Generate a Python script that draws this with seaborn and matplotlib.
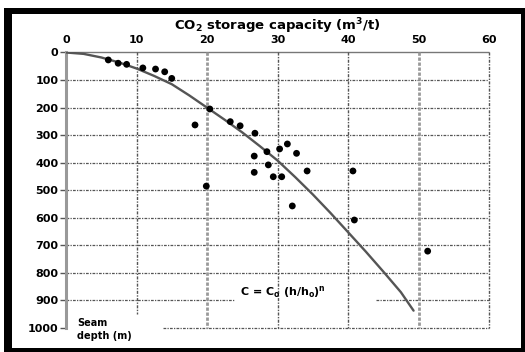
import matplotlib
matplotlib.use("Agg")
import matplotlib.pyplot as plt
from matplotlib.patches import Rectangle
import seaborn as sns
import pandas as pd

# Data
capacity = [6.0, 7.4, 8.6, 10.9, 12.7, 14.0, 15.0, 20.4, 18.3, 23.3, 24.7, 26.8,
            26.7, 28.5, 26.7, 19.9, 28.7, 30.3, 31.4, 32.7, 29.4, 30.6, 34.2,
            40.7, 32.1, 40.9, 51.3]
depth = [27, 39, 43, 56, 60, 70, 94, 205, 263, 251, 266, 293,
         376, 360, 435, 485, 408, 350, 332, 366, 451, 451, 430,
         430, 557, 608, 721]

curve_cap = [0, 2.5, 5, 7.5, 10, 12.5, 15, 17.5, 20, 22.5, 25, 27.5, 30, 32.5,
             35, 37.5, 40, 42.5, 45, 47.5, 49.3]
curve_depth = [0, 5, 18, 36, 58, 85, 115, 156, 200, 244, 290, 340, 392, 452,
               515, 582, 652, 722, 795, 870, 937]

x_ticks = [0, 10, 20, 30, 40, 50, 60]
y_ticks = [0, 100, 200, 300, 400, 500, 600, 700, 800, 900, 1000]

sns.set_theme(style="white")
plt.rcParams['font.family'] = ['DejaVu Sans']
plt.rcParams['font.weight'] = 'bold'
plt.rcParams['text.color'] = 'black'
plt.rcParams['axes.labelcolor'] = 'black'
plt.rcParams['mathtext.fontset'] = 'custom'
plt.rcParams['mathtext.rm'] = 'DejaVu Sans:bold'
plt.rcParams['mathtext.it'] = 'DejaVu Sans:bold'
plt.rcParams['mathtext.bf'] = 'DejaVu Sans:bold'
plt.rcParams['mathtext.default'] = 'rm'

W, H = 525, 352
fig = plt.figure(figsize=(W / 100, H / 100), dpi=100)
fig.patch.set_facecolor('white')
ax = fig.add_axes([66 / W, 1 - 328 / H, (489 - 66) / W, (328 - 52.5) / H])

pts = pd.DataFrame({'cap': capacity, 'depth': depth})
crv = pd.DataFrame({'cap': curve_cap, 'depth': curve_depth})

gcol = '#555555'
gls = (0, (2.2, 1.0, 1.0, 1.0))
glw = 0.9
# horizontal grid lines
for yv in y_ticks[1:-1]:
    if yv == 900:
        ax.hlines(yv, 0, 24, colors=gcol, linestyles=gls, lw=glw, zorder=1)
        ax.hlines(yv, 44, 60, colors=gcol, linestyles=gls, lw=glw, zorder=1)
    else:
        ax.hlines(yv, 0, 60, colors=gcol, linestyles=gls, lw=glw, zorder=1)
ax.hlines(1000, 13.8, 60, colors=gcol, linestyles=gls, lw=glw, zorder=1, clip_on=False)
ax.hlines(0, 0, 60, colors='#777777', lw=1.0, zorder=1, clip_on=False)
# vertical grid lines
for xv in x_ticks[1:]:
    ymax = 950 if xv == 10 else 1000
    if xv in (20, 50):
        ax.vlines(xv, 0, ymax, colors='#999999', linestyles=(0, (1.2, 0.6)), lw=2.0,
                  zorder=1, clip_on=False)
    else:
        ax.vlines(xv, 0, ymax, colors=gcol, linestyles=gls, lw=1.0,
                  zorder=1, clip_on=False)

sns.lineplot(data=crv, x='cap', y='depth', ax=ax, color='#555555', lw=1.7,
             sort=False, zorder=3)
sns.scatterplot(data=pts, x='cap', y='depth', ax=ax, color='black', s=24,
                edgecolor='none', zorder=4)

ax.set_xlim(0, 60)
ax.set_ylim(1000, 0)
ax.xaxis.tick_top()
ax.xaxis.set_label_position('top')
ax.set_xticks(x_ticks)
ax.set_yticks(y_ticks)
ax.set_xticklabels([str(v) for v in x_ticks])
ax.set_yticklabels([str(v) for v in y_ticks])
ax.tick_params(axis='x', length=0, pad=5.5, labelsize=8, labelcolor='black')
ax.tick_params(axis='y', length=4, width=1, color='#555555', pad=1.5,
               labelsize=8, labelcolor='black', left=True)
for lab in ax.get_xticklabels() + ax.get_yticklabels():
    lab.set_fontweight('bold')
ax.set_xlabel(r'CO$_2$ storage capacity (m$^3$/t)', fontsize=9.5,
              fontweight='bold', labelpad=3.5, color='black')
ax.set_ylabel('')

for s in ['top', 'right', 'bottom']:
    ax.spines[s].set_visible(False)
ax.spines['left'].set_color('#999999')
ax.spines['left'].set_linewidth(2.2)
ax.patch.set_alpha(0)

ax.text(24.7, 870, r'C = C$_o$ (h/h$_o$)$^n$', fontsize=8, fontweight='bold',
        ha='left', va='center', zorder=5, color='black')
ax.text(1.6, 1005, 'Seam\ndepth (m)', fontsize=7, fontweight='bold',
        ha='left', va='center', linespacing=1.35, clip_on=False, zorder=5,
        color='black')

# black frame
def frame(x0, y0, x1, y1):
    fig.add_artist(Rectangle((x0 / W, 1 - y1 / H), (x1 - x0) / W, (y1 - y0) / H,
                             transform=fig.transFigure, facecolor='black',
                             edgecolor='none'))
frame(4, 8, 12, 352)
frame(4, 8, 525, 14)
frame(521, 8, 525, 352)
frame(4, 348, 525, 352)

fig.savefig('out.png', dpi=100)
